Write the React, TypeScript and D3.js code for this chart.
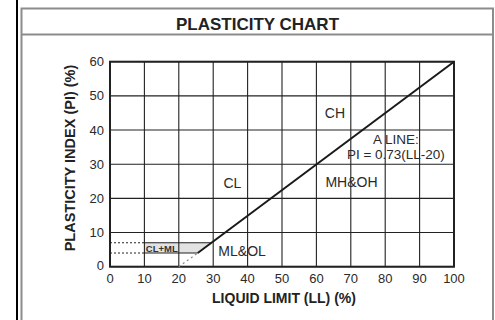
import React from 'react';
import * as d3 from 'd3';

// axis ticks
const xTicks = [0, 10, 20, 30, 40, 50, 60, 70, 80, 90, 100];
const yTicks = [0, 10, 20, 30, 40, 50, 60];

// A line (solid part starts where the CL-ML band ends), dotted stub down to LL=20
const aLineSolid = [
  { ll: 25.5, pi: 4 },
  { ll: 100, pi: 60 },
];
const aLineDotted = [
  { ll: 20, pi: 0 },
  { ll: 25.5, pi: 4 },
];

// CL-ML band limits (PI) and where it starts on LL
const bandPI = [4, 7];
const bandStartLL = 10;

// zone labels, anchored in data units
const zoneLabels = [
  { text: 'CH', ll: 65.4, pi: 43.5 },
  { text: 'CL', ll: 35.6, pi: 23.0 },
  { text: 'MH&OH', ll: 70.2, pi: 23.3 },
  { text: 'ML&OL', ll: 38.4, pi: 3.2 },
];
const aLineLabel = ['A LINE:', 'PI = 0.73(LL-20)'];
const aLineLabelAt = { ll: 83.1, pi: [35.9, 31.5] };

const W = 495;
const H = 320;
const font = 'Arial, "Liberation Sans", Helvetica, sans-serif';

export default function App() {
  const x = d3.scaleLinear().domain([0, 100]).range([110, 454]);
  const y = d3.scaleLinear().domain([0, 60]).range([266.7, 61.7]);

  const line = d3
    .line<{ ll: number; pi: number }>()
    .x(d => x(d.ll))
    .y(d => y(d.pi));

  // LL on the A line for a given PI
  const llAt = d3
    .scaleLinear()
    .domain([aLineSolid[0].pi, aLineSolid[1].pi])
    .range([aLineSolid[0].ll, aLineSolid[1].ll]);

  const band = [
    { ll: bandStartLL, pi: bandPI[0] },
    { ll: bandStartLL, pi: bandPI[1] },
    { ll: llAt(bandPI[1]), pi: bandPI[1] },
    { ll: llAt(bandPI[0]), pi: bandPI[0] },
  ];

  return (
    <svg
      width={W}
      height={H}
      viewBox={`0 0 ${W} ${H}`}
      style={{ position: 'absolute', left: 0, top: 0, background: '#fff' }}
      fontFamily={font}
    >
      {/* page frame */}
      <line x1={17} y1={0} x2={17} y2={H} stroke="#000" strokeWidth={2} />
      <g stroke="#8c8c8c" strokeWidth={2} fill="none">
        <polyline points={`21.5,${H} 21.5,8.5 493,8.5 493,${H}`} />
        <line x1={21.5} y1={34.5} x2={493} y2={34.5} />
      </g>
      <text x={257.5} y={29.5} textAnchor="middle" fontSize={17} fontWeight={700} fill="#222">
        PLASTICITY CHART
      </text>

      {/* CL-ML band */}
      <path d={line(band) + 'Z'} fill="#e2e2e2" stroke="none" />

      {/* grid */}
      <g stroke="#222" strokeWidth={1.1}>
        {xTicks.map(t => (
          <line key={'gx' + t} x1={x(t)} x2={x(t)} y1={y(0)} y2={y(60)} />
        ))}
        {yTicks.map(t => (
          <line key={'gy' + t} x1={x(0)} x2={x(100)} y1={y(t)} y2={y(t)} />
        ))}
      </g>

      {/* band edges */}
      <g stroke="#222" strokeWidth={1.1}>
        {bandPI.map((p, i) => (
          <g key={'b' + p}>
            <line x1={x(0)} x2={x(bandStartLL)} y1={y(p)} y2={y(p)} strokeDasharray="2,2" />
            <line x1={x(bandStartLL)} x2={x(band[i === 0 ? 3 : 2].ll)} y1={y(p)} y2={y(p)} />
          </g>
        ))}
      </g>

      {/* plot border */}
      <rect
        x={x(0)}
        y={y(60)}
        width={x(100) - x(0)}
        height={y(0) - y(60)}
        fill="none"
        stroke="#222"
        strokeWidth={2}
      />

      {/* A line */}
      <path d={line(aLineDotted) ?? ''} stroke="#888" strokeWidth={1.2} strokeDasharray="2,3" fill="none" />
      <path d={line(aLineSolid) ?? ''} stroke="#1a1a1a" strokeWidth={2} fill="none" />

      {/* tick labels */}
      <g fontSize={13} fill="#2a2a2a">
        {xTicks.map(t => (
          <text key={'tx' + t} x={x(t)} y={283} textAnchor="middle">
            {t}
          </text>
        ))}
        {yTicks.map(t => (
          <text key={'ty' + t} x={104} y={y(t) + (t === 0 ? 3.5 : 4.5)} textAnchor="end">
            {t}
          </text>
        ))}
      </g>

      {/* axis titles */}
      <text x={284} y={303} textAnchor="middle" fontSize={14} fontWeight={700} fill="#222">
        LIQUID LIMIT (LL) (%)
      </text>
      <text
        transform="translate(74.5,158) rotate(-90)"
        textAnchor="middle"
        fontSize={14.5}
        fontWeight={700}
        fill="#222"
      >
        PLASTICITY INDEX (PI) (%)
      </text>

      {/* zone labels */}
      <g fontSize={14} fill="#2a2a2a">
        {zoneLabels.map(l => (
          <text key={l.text} x={x(l.ll)} y={y(l.pi)} textAnchor="middle">
            {l.text}
          </text>
        ))}
        {aLineLabel.map((s, i) => (
          <text key={s} x={x(aLineLabelAt.ll)} y={y(aLineLabelAt.pi[i])} textAnchor="middle" fontSize={13.5}>
            {s}
          </text>
        ))}
      </g>
      <text x={x(10.4)} y={y(4.4)} fontSize={9.5} fontWeight={700} fill="#333">
        CL+ML
      </text>
    </svg>
  );
}
